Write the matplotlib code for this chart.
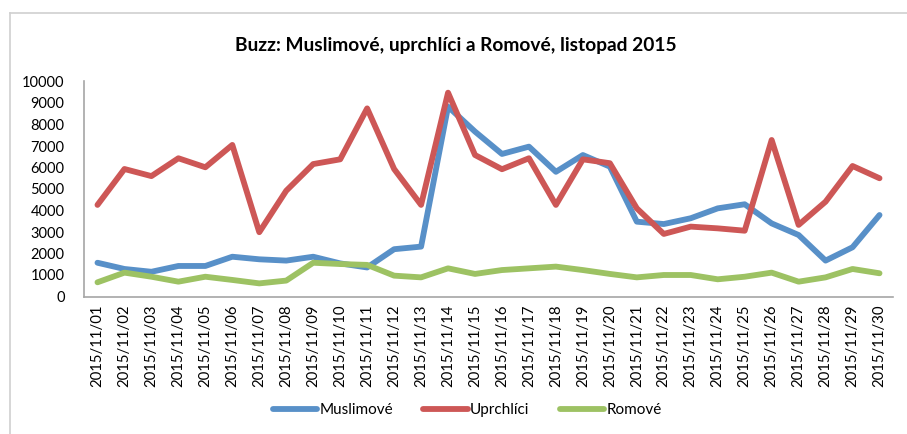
import matplotlib.pyplot as plt
from matplotlib.lines import Line2D

days = list(range(1, 31))
labels = ["2015/11/%02d" % d for d in days]

muslimove = [1570, 1280, 1150, 1420, 1420, 1850, 1730, 1670, 1850, 1540,
             1350, 2200, 2320, 8830, 7670, 6630, 6970, 5800, 6580, 6040,
             3480, 3370, 3640, 4100, 4290, 3400, 2860, 1670, 2290, 3790]
uprchlici = [4260, 5930, 5600, 6430, 6010, 7050, 2990, 4920, 6160, 6380,
             8750, 5930, 4260, 9480, 6580, 5920, 6430, 4260, 6380, 6200,
             4100, 2910, 3250, 3170, 3060, 7280, 3330, 4410, 6070, 5500]
romove = [660, 1110, 920, 690, 920, 770, 610, 740, 1570, 1510,
          1470, 970, 890, 1310, 1050, 1230, 1310, 1390, 1230, 1050,
          890, 1000, 1000, 800, 920, 1110, 690, 890, 1280, 1080]

series = [("Muslimové", muslimove, "#5890C8"),
          ("Uprchlíci", uprchlici, "#CD5756"),
          ("Romové", romove, "#9DC263")]

plt.rcParams['font.family'] = ['Lato', 'DejaVu Sans']

fig = plt.figure(figsize=(9.07, 4.34), dpi=100)
ax = fig.add_axes([84 / 907, 1 - 296.5 / 434, (893 - 84) / 907, (296.5 - 81.5) / 434])

for name, vals, col in series:
    ax.plot(days, vals, color=col, lw=4.2, solid_capstyle="round", solid_joinstyle="round", label=name)

ax.set_xlim(0.5, 30.5)
ax.set_ylim(0, 10000)
ax.set_yticks(range(0, 10001, 1000))
ax.set_xticks(days)
ax.set_xticklabels(labels, rotation=90, fontsize=10.7)
ax.tick_params(axis="y", length=0, labelsize=10.5, pad=14)
ax.tick_params(axis="x", length=0, pad=6)
for s in ["top", "right"]:
    ax.spines[s].set_visible(False)
for s in ["left", "bottom"]:
    ax.spines[s].set_color("#A6A6A6")
    ax.spines[s].set_linewidth(1.2)

fig.text(0.503, 1 - 45 / 434, "Buzz: Muslimové, uprchlíci a Romové, listopad 2015",
         ha="center", va="center", fontsize=13.8, fontweight="bold")

handles = [Line2D([], [], color=c, lw=4.2, solid_capstyle="round") for _, _, c in series]
fig.legend(handles, [n for n, _, _ in series], loc="center", bbox_to_anchor=(0.515, 1 - 410 / 434),
           ncol=3, frameon=False, fontsize=11, handlelength=2.9, handletextpad=0.15, columnspacing=2.0)

# chart frame (left and top edges visible)
fig.add_artist(Line2D([10 / 907, 10 / 907], [0, 1 - 13 / 434], color="#D0D0D0", lw=1.2))
fig.add_artist(Line2D([10 / 907, 1], [1 - 13 / 434, 1 - 13 / 434], color="#D0D0D0", lw=1.2))

fig.savefig("out.png", dpi=100)
